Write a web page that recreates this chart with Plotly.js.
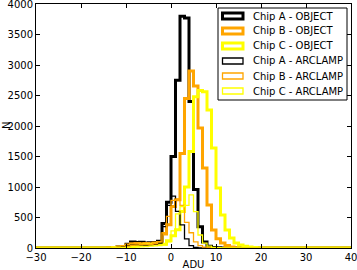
<!DOCTYPE html>
<html>
<head>
<meta charset="utf-8">
<script src="https://cdn.plot.ly/plotly-3.0.1.min.js"></script>
<style>html,body{margin:0;padding:0;background:#fff}</style>
</head>
<body>
<div id="chart" style="width:357px;height:270px"></div>
<script>
// Bin left edges (ADU), bins are 1 ADU wide
const binLeft = [-15,-14,-13,-12,-11,-10,-9,-8,-7,-6,-5,-4,-3,-2,-1,0,1,2,3,4,5,6,7,8,9,10,11,12,13,14,15,16,17,18,19];
const chipAObject  = [2,5,10,15,25,60,100,90,95,80,85,90,110,400,750,1500,2750,3800,3770,2400,960,350,100,30,10,5,2,1,0,0,0,0,0,0,0];
const chipBObject  = [2,4,8,15,25,50,70,75,70,75,70,80,90,230,380,680,790,1550,2450,2900,2655,1967,1311,705,295,150,80,40,15,5,2,1,0,0,0];
const chipCObject  = [1,2,4,6,10,20,30,40,45,50,55,60,60,60,120,200,300,600,1000,1580,2480,2580,2560,2262,1640,983,540,295,164,82,50,30,15,10,5];
const chipAArclamp = [0,2,5,10,20,40,50,55,50,45,50,60,80,350,700,850,600,380,150,40,10,3,0,0,0,0,0,0,0,0,0,0,0,0,0];
const chipBArclamp = [0,2,4,8,15,30,45,50,55,55,60,70,100,250,520,780,800,700,420,250,100,40,15,5,2,0,0,0,0,0,0,0,0,0,0];
const chipCArclamp = [0,0,1,2,4,8,12,15,20,25,30,35,40,50,100,280,560,680,700,870,595,213,80,30,10,4,1,0,0,0,0,0,0,0,0];

const seriesNames = ['Chip A - OBJECT','Chip B - OBJECT','Chip C - OBJECT','Chip A - ARCLAMP','Chip B - ARCLAMP','Chip C - ARCLAMP'];
const seriesData = [chipAObject, chipBObject, chipCObject, chipAArclamp, chipBArclamp, chipCArclamp];
const seriesColors = ['#000000','#FFA500','#FFFF00','#000000','#FFA500','#FFFF00'];
const seriesWidths = [3,3,3,1.3,1.3,1.3];

const xTicks = [-30,-20,-10,0,10,20,30,40];
const yTicks = [0,500,1000,1500,2000,2500,3000,3500,4000];
const xMin = -30, xMax = 40;

function stepTrace(counts, color, width, name) {
  const x = [xMin].concat(binLeft, [binLeft[binLeft.length-1] + 1, xMax]);
  const y = [0].concat(counts, [0, 0]);
  return {
    type: 'scatter', mode: 'lines', x: x, y: y, name: name,
    line: {shape: 'hv', color: color, width: width},
    showlegend: false, hoverinfo: 'skip'
  };
}
const traces = seriesData.map((d, i) => stepTrace(d, seriesColors[i], seriesWidths[i], seriesNames[i]));

// plot area in pixels
const L = 36, R = 351, T = 4, B = 248;
const px = v => (v - L) / (R - L);
const py = v => (B - v) / (B - T);

const shapes = [{
  type: 'rect', xref: 'paper', yref: 'paper',
  x0: px(218), x1: px(347), y0: py(100), y1: py(8),
  line: {color: '#000', width: 1}, fillcolor: '#fff', layer: 'above'
}];
const annotations = [{
  xref: 'paper', yref: 'paper', x: px(6), y: py(126), xanchor: 'center', yanchor: 'middle',
  text: 'N', textangle: -90, showarrow: false, font: {family: 'DejaVu Sans', size: 10, color: '#000'}
}];
seriesNames.forEach((n, i) => {
  const cy = 16 + i * 15;
  shapes.push({
    type: 'rect', xref: 'paper', yref: 'paper',
    x0: px(222.5), x1: px(243), y0: py(cy + 3), y1: py(cy - 3),
    line: {color: seriesColors[i], width: seriesWidths[i]}, fillcolor: 'rgba(0,0,0,0)', layer: 'above'
  });
  annotations.push({
    xref: 'paper', yref: 'paper', x: px(251), y: py(cy), xanchor: 'left', yanchor: 'middle',
    text: n, showarrow: false, font: {family: 'DejaVu Sans', size: 10, color: '#000'}
  });
});

const axisCommon = {
  showline: true, linecolor: '#000', linewidth: 1, mirror: 'allticks',
  ticks: 'inside', ticklen: 4, tickcolor: '#000', tickwidth: 1,
  showgrid: false, zeroline: false, ticklabeloverflow: 'allow',
  tickfont: {family: 'DejaVu Sans', size: 10, color: '#000'}
};

const layout = {
  width: 357, height: 270,
  margin: {l: L, r: 357 - R, t: T, b: 270 - B},
  paper_bgcolor: '#fff', plot_bgcolor: '#fff',
  showlegend: false,
  xaxis: Object.assign({}, axisCommon, {
    range: [xMin, xMax], tickmode: 'array', tickvals: xTicks,
    title: {text: 'ADU', font: {family: 'DejaVu Sans', size: 10, color: '#000'}, standoff: 2}
  }),
  yaxis: Object.assign({}, axisCommon, {
    range: [0, 4000], tickmode: 'array', tickvals: yTicks
  }),
  shapes: shapes,
  annotations: annotations
};

Plotly.newPlot('chart', traces, layout, {displayModeBar: false, staticPlot: true});
</script>
</body>
</html>
